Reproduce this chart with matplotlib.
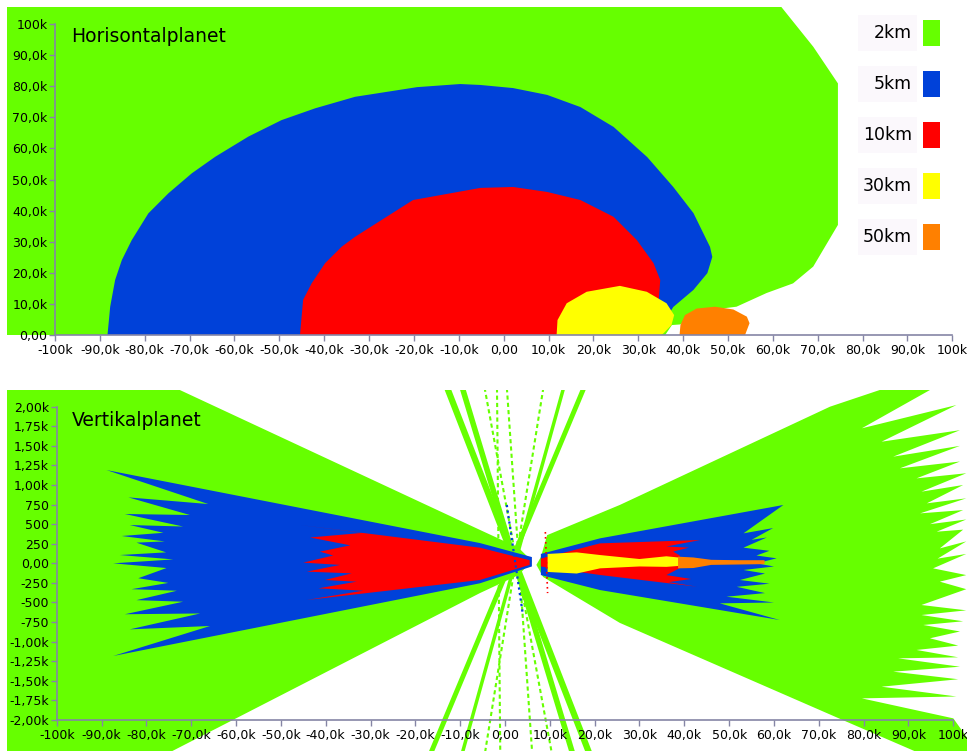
import matplotlib.pyplot as plt
import matplotlib.patches as patches
import numpy as np

W, H = 967, 751

levels = ['2km', '5km', '10km', '30km', '50km']
level_colors = ['#66ff00', '#0041d9', '#ff0000', '#ffff00', '#ff8000']

# Horisontalplanet contours, x and y in k
h_2km = [(-111, 0), (-111, 106), (61.6, 106), (69.0, 92.7), (74.5, 80.9), (74.5, 35.4),
         (69.0, 22.0), (64.5, 16.6), (58.6, 13.5), (51.9, 9.1), (43.0, 7.5), (39.4, 3.4),
         (37.5, 3.2), (36.0, 0)]
h_5km = [(-88.3, 0), (-87.7, 9.1), (-86.6, 17.7), (-85.1, 24.1), (-82.9, 30.5), (-79.2, 39.1),
         (-74.7, 45.6), (-69.5, 52.0), (-64.3, 57.3), (-56.9, 63.8), (-49.5, 69.1), (-42.0, 72.9),
         (-33.1, 76.6), (-19.3, 79.7), (-9.7, 80.7), (-5.2, 80.4), (2.1, 79.4), (9.7, 77.2),
         (17.1, 73.3), (24.5, 66.9), (32.0, 57.2), (37.8, 47.6), (42.3, 39.2), (46.0, 28.3),
         (46.5, 25.1), (45.4, 19.9), (42.3, 14.5), (37.8, 9.0), (34.0, 0)]
h_10km = [(-45.4, 0), (-44.7, 11.3), (-42.8, 16.6), (-39.8, 23.1), (-36.1, 28.4), (-33.1, 31.6),
          (-20.2, 43.4), (-5.2, 47.3), (2.1, 47.6), (9.7, 46.0), (17.1, 43.4),
          (24.5, 38.0), (29.7, 30.5), (33.4, 23.1), (34.9, 17.7), (34.5, 10.0), (30.0, 0)]
h_30km = [(11.8, 0), (12.0, 4.8), (14.05, 10.2), (18.5, 13.9), (25.9, 15.8), (31.9, 13.9),
          (36.3, 10.2), (38.0, 6.4), (37.4, 3.2), (35.6, 0.5), (35.1, 0)]
h_50km = [(39.2, 0), (39.4, 3.2), (40.4, 6.4), (43.0, 8.5), (47.1, 9.1), (51.2, 8.2),
          (54.2, 5.9), (54.8, 3.8), (53.8, 0)]

# Vertikalplanet contours, x in k, height in m
v_2km_left = [(-112, 2300), (-75.8, 2300), (-5.6, 427), (3.0, 200), (6.0, 30), (3.0, -150),
              (-5.6, -380), (-60.7, -2000), (-74.2, -2396), (-75.5, -2450), (-112, -2450)]
v_2km_right = [(8.0, 80), (9.4, 360), (25.6, 745), (72.5, 2000), (83.6, 2213), (94.8, 2213),
               (79.6, 1724), (100.7, 2021), (84.0, 1553), (101.5, 1700), (86.6, 1362), (101.5, 1500),
               (88.1, 1213), (101.5, 1300), (91.8, 1085), (102.9, 1150), (92.9, 915), (102.2, 1000),
               (94.1, 766), (102.9, 830), (92.6, 638), (102.2, 680), (94.8, 500), (102.9, 560),
               (96.3, 404), (102.2, 430), (97.0, 191), (102.9, 280), (96.5, 60), (102.9, 120),
               (95.5, -64), (102.9, -150), (97.0, -234), (102.9, -330), (92.9, -532), (102.9, -600),
               (92.9, -660), (102.2, -740), (93.3, -787), (101.5, -870), (94.8, -957), (101.1, -1050),
               (91.8, -1106), (101.1, -1200), (87.7, -1213), (101.5, -1320), (86.6, -1383),
               (101.1, -1480), (84.0, -1575), (100.7, -1700), (79.6, -1724), (100.0, -1979),
               (104, -2300), (104, -2450), (93.5, -2450), (76.2, -2022), (25.6, -760), (8.5, -174),
               (7.0, -20)]
v_5km_left = [(-88.9, 1191), (-5.6, 259), (6.0, 80), (6.0, -40), (-5.6, -255), (-87.4, -1183),
              (-65.8, -800), (-83.7, -843), (-68.0, -640), (-84.8, -650), (-71.8, -490), (-82.2, -470),
              (-73.2, -350), (-83.3, -330), (-75.1, -250), (-81.8, -190), (-75.5, -60), (-87.4, 0),
              (-74.0, 50), (-85.9, 106), (-75.6, 140), (-82.2, 264), (-75.9, 280), (-85.5, 349),
              (-76.2, 390), (-83.7, 489), (-71.8, 470), (-84.8, 630), (-70.3, 617), (-84.0, 842),
              (-66.2, 757)]
v_5km_right = [(8.0, 120), (21.2, 319), (62.1, 745), (53.2, 383), (59.8, 450), (55.0, 300),
               (58.4, 330), (53.2, 200), (59.0, 160), (56.1, 100), (60.6, 64), (56.1, 0),
               (60.0, -40), (53.2, -85), (58.0, -130), (52.4, -213), (59.0, -260), (51.7, -300),
               (58.0, -380), (49.4, -426), (60.0, -500), (47.9, -511), (61.3, -724), (21.2, -341),
               (8.0, -150)]
v_10km_left = [(-45.7, 489), (-5.6, 200), (5.5, 40), (5.5, -20), (-5.6, -213), (-44.2, -468),
               (-31.6, -349), (-41.6, -319), (-33.1, -234), (-40.2, -213), (-34.2, -128),
               (-44.2, -106), (-36.8, -20), (-45.0, 9), (-38.3, 100), (-41.3, 149), (-34.5, 230),
               (-43.5, 330), (-31.6, 390)]
v_10km_right = [(8.0, 60), (21.2, 255), (43.5, 298), (36.0, 215), (41.0, 200), (37.5, 150),
                (39.0, 100), (39.0, -60), (36.0, -150), (41.5, -200), (36.5, -240), (42.8, -298),
                (21.2, -149), (8.0, -40)]
v_30km = [(9.5, 120), (16.0, 140), (21.2, 106), (30.0, 55), (36.0, 90), (39.5, 70), (39.5, -30),
          (36.0, -45), (30.0, -40), (21.2, -64), (16.0, -130), (9.5, -110)]
v_50km = [(38.6, 85), (42.0, 75), (46.0, 45), (52.0, 40), (57.9, 40), (57.9, -10), (52.0, -15),
          (46.0, -20), (42.0, -60), (38.6, -64)]

# side lobe streaks: x (k) where they cross 2213 m and -2022 m
lobe_x_top = [-12.71, -9.37, 17.40, 12.94, 8.48, -4.46, -1.78, 0.45]
lobe_x_bot = [16.06, 12.94, -13.61, -7.58, -3.35, 9.15, -1.12, 5.58]
lobe_lw = [4.5, 4.0, 3.5, 2.5, 1.5, 1.5, 1.5, 1.5]
lobe_dash = [False, False, False, False, True, True, True, True]

h_xticks = np.arange(-100, 101, 10)
x_labels = ['-100k', '-90,0k', '-80,0k', '-70,0k', '-60,0k', '-50,0k', '-40,0k', '-30,0k',
            '-20,0k', '-10,0k', '0,00', '10,0k', '20,0k', '30,0k', '40,0k', '50,0k', '60,0k',
            '70,0k', '80,0k', '90,0k', '100k']
h_yticks = np.arange(0, 101, 10)
h_ylabels = ['0,00', '10,0k', '20,0k', '30,0k', '40,0k', '50,0k', '60,0k', '70,0k', '80,0k',
             '90,0k', '100k']
v_yticks = np.arange(-2000, 2001, 250)
v_ylabels = ['-2,00k', '-1,75k', '-1,50k', '-1,25k', '-1,00k', '-750', '-500', '-250', '0,00',
             '250', '500', '750', '1,00k', '1,25k', '1,50k', '1,75k', '2,00k']

axis_col = '#8585a5'

fig = plt.figure(figsize=(W / 100, H / 100), dpi=100)

ax1 = fig.add_axes([7 / W, 1 - 335 / H, 960 / W, 328 / H])
ax1.set_xlim(-110.70, 103.27)
ax1.set_ylim(0, 105.47)
for pts, c in zip([h_2km, h_5km, h_10km, h_30km, h_50km], level_colors):
    ax1.add_patch(patches.Polygon(pts, closed=True, facecolor=c, edgecolor='none', zorder=1))

ax2 = fig.add_axes([7 / W, 0, 960 / W, 361 / H])
ax2.set_xlim(-111.09, 103.06)
ax2.set_ylim(-2396, 2213)

for xt, xb, lw, dash in zip(lobe_x_top, lobe_x_bot, lobe_lw, lobe_dash):
    slope = (xb - xt) / (-2022 - 2213)
    ys = np.array([2700, -2700])
    xs = xt + slope * (ys - 2213)
    ax2.plot(xs, ys, color=level_colors[0], lw=lw, solid_capstyle='butt',
             linestyle=(0, (2, 1.5)) if dash else '-', zorder=0.5)

v_shapes = [(v_2km_left, 0), (v_2km_right, 0), (v_5km_left, 1), (v_5km_right, 1),
            (v_10km_left, 2), (v_10km_right, 2), (v_30km, 3), (v_50km, 4)]
for pts, i in v_shapes:
    ax2.add_patch(patches.Polygon(pts, closed=True, facecolor=level_colors[i], edgecolor='none', zorder=1))

ax2.plot([0.4, 4.0], [745, -660], color=level_colors[1], lw=1.6, linestyle=(0, (1, 1.5)), zorder=1.1)
ax2.plot([9.0, 9.5], [400, -380], color=level_colors[2], lw=1.2, linestyle=(0, (1, 2)), zorder=1.1)


def style(ax, y0, ybounds, yticks, ylabels):
    for s in ['top', 'right']:
        ax.spines[s].set_visible(False)
    ax.spines['left'].set_position(('data', -100))
    ax.spines['left'].set_bounds(*ybounds)
    ax.spines['bottom'].set_position(('data', y0))
    ax.spines['bottom'].set_bounds(-100, 100)
    for s in ['left', 'bottom']:
        ax.spines[s].set_color(axis_col)
        ax.spines[s].set_linewidth(1.2)
    ax.set_xticks(h_xticks)
    ax.set_xticklabels(x_labels)
    ax.set_yticks(yticks)
    ax.set_yticklabels(ylabels)
    ax.tick_params(axis='both', direction='out', length=4, width=1, color=axis_col,
                   labelsize=9, labelcolor='black')
    ax.tick_params(axis='x', pad=2.5)
    ax.tick_params(axis='y', pad=1.5)
    ax.patch.set_alpha(0)


style(ax1, 0, (0, 100), h_yticks, h_ylabels)
style(ax2, -2000, (-2000, 2000), v_yticks, v_ylabels)

fig.text(71 / W, 1 - 36 / H, 'Horisontalplanet', fontsize=13.5, va='center', ha='left')
fig.text(72 / W, 1 - 420 / H, 'Vertikalplanet', fontsize=13.5, va='center', ha='left')

# legend
for i, (lab, c) in enumerate(zip(levels, level_colors)):
    yc = 33 + i * 51
    fig.add_artist(patches.Rectangle((858 / W, 1 - (yc + 18) / H), 59 / W, 36 / H,
                                     transform=fig.transFigure, facecolor='#fbf8fc', edgecolor='none'))
    fig.add_artist(patches.Rectangle((923 / W, 1 - (yc + 13) / H), 17 / W, 26 / H,
                                     transform=fig.transFigure, facecolor=c, edgecolor='none'))
    fig.text(912 / W, 1 - yc / H, lab, fontsize=12.5, ha='right', va='center')

fig.savefig('out.png', dpi=100)
